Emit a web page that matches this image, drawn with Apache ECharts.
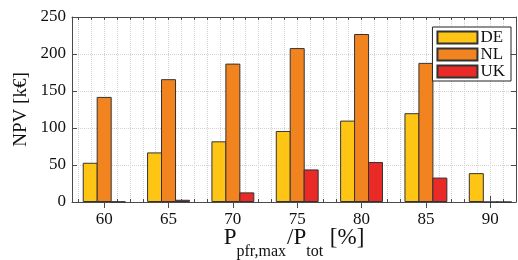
<!DOCTYPE html>
<html>
<head>
<meta charset="utf-8">
<script src="https://cdn.jsdelivr.net/npm/echarts@6/dist/echarts.min.js"></script>
<style>
  html, body { margin: 0; padding: 0; background: #fff; }
  #chart { width: 518px; height: 260px; }
</style>
</head>
<body>
<div id="chart"></div>
<script>
// data
const shares = [60, 65, 70, 75, 80, 85, 90];
const npvDE = [53, 67, 82, 96, 110, 120, 39];
const npvNL = [142, 166, 187, 208, 227, 188, 0];
const npvUK = [0.5, 3, 13, 44, 54, 33, 0];
const minorTicks = [58, 59, 60, 61, 62, 63, 64, 65, 66, 67, 68, 69, 70, 71, 72, 73, 74, 75,
  76, 77, 78, 79, 80, 81, 82, 83, 84, 85, 86, 87, 88, 89, 90, 91];
const yTicks = [0, 50, 100, 150, 200, 250];

const xMin = 57.5;
const xMax = 92;
// half-step slots so the bar axis lines up with the value axis frame
const slots = Array.from({ length: (xMax - xMin) / 0.5 + 1 }, (_, i) => xMin + i * 0.5);

const font = "'Liberation Serif', 'DejaVu Serif', serif";
const frame = "#4a4a4a";

const onSlots = (vals) => slots.map((s) => {
  const i = shares.indexOf(s);
  return i < 0 ? "-" : vals[i];
});

// one x axis builder, used for the bottom/top frame and the long major ticks
function xAx(position, ticks, len, extra) {
  return Object.assign({
    type: "value",
    position: position,
    min: xMin,
    max: xMax,
    axisLine: { show: true, onZero: false, lineStyle: { color: frame, width: 1 } },
    axisTick: { show: true, inside: true, length: len, customValues: ticks, lineStyle: { color: frame } },
    axisLabel: { show: false },
    splitLine: { show: false },
  }, extra || {});
}

function yAx(position, extra) {
  return Object.assign({
    type: "value",
    position: position,
    min: 0,
    max: 250,
    interval: 50,
    axisLine: { show: true, onZero: false, lineStyle: { color: frame, width: 1 } },
    axisTick: { show: true, inside: true, length: 5, lineStyle: { color: frame } },
    axisLabel: { show: false },
    splitLine: { show: false },
  }, extra || {});
}

const barStyle = (color) => ({ color: color, borderColor: "#333", borderWidth: 1 });

const chart = echarts.init(document.getElementById("chart"));

chart.setOption({
  animation: false,
  backgroundColor: "#fff",
  grid: { left: 72, right: 2, top: 17, bottom: 58, outerBoundsMode: "none", containLabel: false },
  legend: {
    orient: "vertical",
    right: 7,
    top: 27,
    icon: "rect",
    itemWidth: 40,
    itemHeight: 12,
    itemGap: 0,
    padding: [2, 6, 1, 4],
    backgroundColor: "#fff",
    borderColor: "#222",
    borderWidth: 1,
    borderRadius: 0,
    textStyle: { fontFamily: font, fontSize: 17, lineHeight: 17, color: "#111", padding: [0, 0, 0, -2] },
    data: ["DE", "NL", "UK"],
  },
  xAxis: [
    xAx("bottom", minorTicks, 3, {
      axisLabel: { show: true, customValues: shares, fontFamily: font, fontSize: 17, color: "#111", margin: 9 },
      splitLine: { show: true, lineStyle: { color: "#d2d2d2", type: "dotted", width: 1 } },
      name: "{m|P}{s|pfr,max}{m|/P}{s|tot}{m| [%]}",
      nameLocation: "middle",
      nameGap: 24,
      nameMoveOverlap: false,
      nameTextStyle: {
        rich: {
          m: { fontFamily: font, fontSize: 23, color: "#111", lineHeight: 22, verticalAlign: "top" },
          s: { fontFamily: font, fontSize: 16, color: "#111", padding: [18, 1, 0, 0], verticalAlign: "top" },
        },
      },
    }),
    xAx("bottom", shares, 6, { axisLine: { show: false } }),
    xAx("top", minorTicks, 3),
    xAx("top", shares, 6, { axisLine: { show: false } }),
    { type: "category", data: slots, boundaryGap: false, show: false, position: "bottom" },
  ],
  yAxis: [
    yAx("left", {
      axisLabel: { show: true, customValues: yTicks, fontFamily: font, fontSize: 17, color: "#111", margin: 6 },
      splitLine: { show: true, lineStyle: { color: "#d2d2d2", type: "dotted", width: 1 } },
      name: "NPV [k€]",
      nameLocation: "middle",
      nameGap: 41,
      nameMoveOverlap: false,
      nameTextStyle: { fontFamily: font, fontSize: 19, color: "#111" },
    }),
    yAx("right"),
  ],
  series: [
    { name: "DE", type: "bar", xAxisIndex: 4, data: onSlots(npvDE), barWidth: 15, barGap: "-7%", itemStyle: barStyle("#ffc515") },
    { name: "NL", type: "bar", xAxisIndex: 4, data: onSlots(npvNL), barWidth: 15, barGap: "-7%", itemStyle: barStyle("#f28420") },
    { name: "UK", type: "bar", xAxisIndex: 4, data: onSlots(npvUK), barWidth: 15, barGap: "-7%", itemStyle: barStyle("#e92a26") },
  ],
});
</script>
</body>
</html>
